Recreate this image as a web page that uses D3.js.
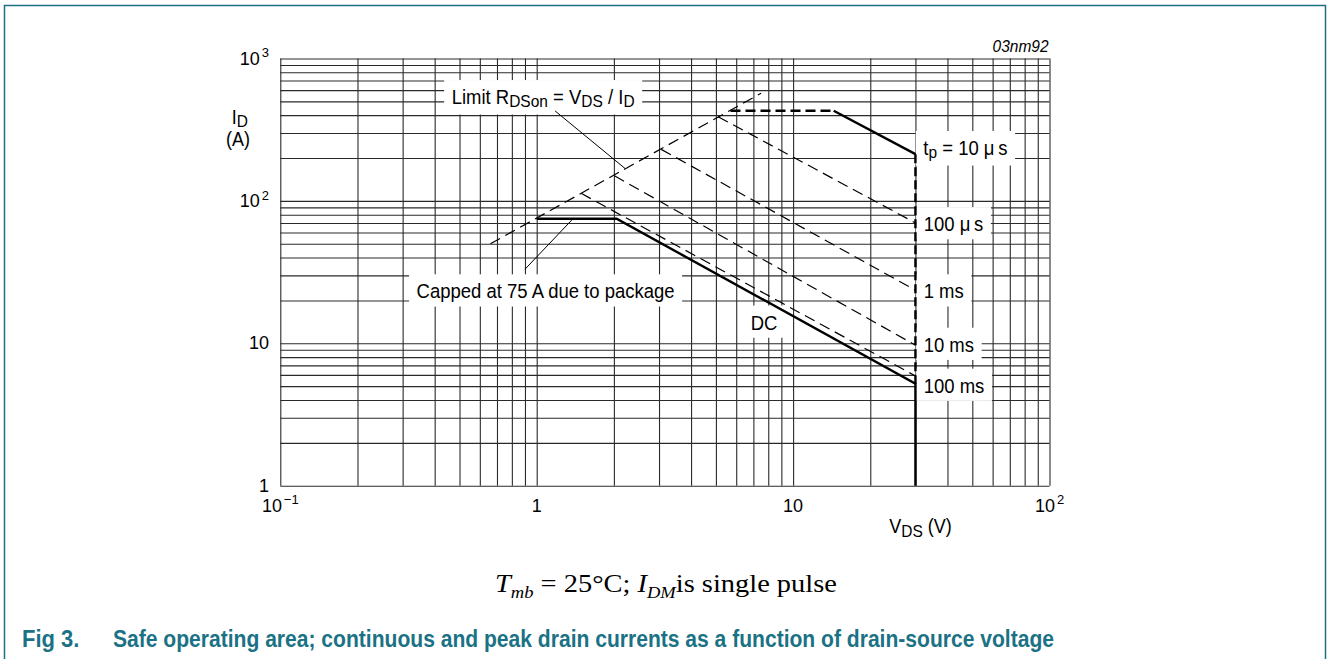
<!DOCTYPE html>
<html>
<head>
<meta charset="utf-8">
<script src="https://cdn.jsdelivr.net/npm/d3@7"></script>
<style>
    body { margin: 0; background: #fff; }
    svg { display: block; font-family: "Liberation Sans", Arial, Helvetica, sans-serif; }
</style>
</head>
<body>
<div id="soa"></div>
<script>
// ---- data (V in volts, I in amps) ----
const xTickValues = [0.1, 1, 10, 100];
const xTickLabels = [["10", "−1"], ["1", ""], ["10", ""], ["10", "2"]];
const yTickValues = [1, 10, 100, 1000];
const yTickLabels = [["1", ""], ["10", ""], ["10", "2"], ["10", "3"]];

const dcCurve     = [[1.0, 75], [2.05, 75], [30, 5.2], [30, 1]];
const rdsonLimit  = [[0.66, 50], [7.5, 570]];
const tp10usFlat  = [[5.7, 430], [14.4, 430]];
const tp10usSlope = [[14.4, 430], [30, 213]];
const pulseEdge   = [[30, 213], [30, 5.2]];
const tp100us     = [[5.1, 390], [30, 70]];
const tp1ms       = [[3.06, 230], [30, 23.6]];
const tp10ms      = [[2.01, 150], [30, 9.7]];
const tp100ms     = [[1.49, 113], [30, 5.9]];

// label texts: [text, isSubscript]
const limitText  = [["Limit R", 0], ["DSon", 1], [" = V", 0], ["DS", 1], [" / I", 0], ["D", 1]];
const cappedText = [["Capped at 75 A due to package", 0]];
const dcText     = [["DC", 0]];
const tpTexts = [
    [["t", 0], ["p", 1], [" = 10 μ\u2009s", 0]],
    [["100 μ\u2009s", 0]],
    [["1 ms", 0]],
    [["10 ms", 0]],
    [["100 ms", 0]]
];

// ---- layout ----
const W = 1327, H = 659;
const teal = "#1b7285";
const S = 1.12;   // the original figure is stretched a little vertically

const x = d3.scaleLog().domain([0.1, 100]).range([280.3, 1049.5]);
const y = d3.scaleLog().domain([1, 1000]).range([485.7, 58.5]);

// label anchors (left, baseline) in data space
const limitAt  = [0.466, 479];
const cappedAt = [0.340, 20.7];
const dcAt     = [6.83, 12.5];
const tpAt     = [[32.2, 210], [32.3, 61.4], [32.3, 20.7], [32.3, 8.73], [32.3, 4.5]];
const leaders  = [[[1.18, 428], [2.21, 169]], [[0.90, 33.1], [1.37, 73.4]]];

const svg = d3.select("#soa")
    .append("svg")
    .attr("width", W)
    .attr("height", H);

// frame
svg.append("path")
    .attr("d", `M4.5,${H + 5}V5.5H1325.5V${H + 5}`)
    .attr("fill", "none")
    .attr("stroke", teal)
    .attr("stroke-width", 1.5);

// grid (1..9 per decade)
const plotH = y(1) - y(1000);
const plotW = x(100) - x(0.1);

svg.append("g")
    .attr("transform", `translate(0,${y(1)})`)
    .call(d3.axisBottom(x).tickValues(x.ticks()).tickSize(-plotH).tickFormat(""))
    .call(g => g.select(".domain").remove())
    .call(g => g.selectAll(".tick line").attr("stroke", "#2a2a2a").attr("stroke-width", 1.1));

svg.append("g")
    .attr("transform", `translate(${x(0.1)},0)`)
    .call(d3.axisLeft(y).tickValues(y.ticks()).tickSize(-plotW).tickFormat(""))
    .call(g => g.select(".domain").remove())
    .call(g => g.selectAll(".tick line").attr("stroke", "#2a2a2a").attr("stroke-width", 1.1));

// text placed at (px, py) with a vertical stretch
function placed(parent, px, py, k = S) {
    return parent.append("g")
        .attr("transform", `translate(${px},${py}) scale(1,${k})`)
        .append("text");
}

function powLabel(t, parts) {
    t.append("tspan").text(parts[0]);
    if (parts[1]) {
        t.append("tspan").attr("dx", 2).attr("dy", -7)
            .style("font-size", "13px").text(parts[1]);
    }
}

const tickLayer = svg.append("g").style("font-size", "18px");

yTickValues.forEach((v, i) => {
    const t = placed(tickLayer, 269, y(v) + 6, 1.05).attr("text-anchor", "end");
    powLabel(t, yTickLabels[i]);
});

xTickValues.forEach((v, i) => {
    const t = placed(tickLayer, x(v), y(1) + 26, 1.05).attr("text-anchor", "middle");
    powLabel(t, xTickLabels[i]);
});

// rich text with subscripts
function richText(parent, parts, px, py, fs) {
    const t = placed(parent, px, py).style("font-size", fs + "px");
    let down = 0;
    parts.forEach(p => {
        const dy = p[1] ? 3 - down : -down;
        down = p[1] ? 3 : 0;
        t.append("tspan")
            .attr("dy", dy)
            .style("font-size", p[1] ? "15.5px" : null)
            .text(p[0]);
    });
    return t;
}

// axis titles
const titles = svg.append("g");
richText(titles, [["I", 0], ["D", 1]], 231.7, 124, 18);
placed(titles, 226, 146).style("font-size", "18px").text("(A)");
richText(titles, [["V", 0], ["DS", 1], [" (V)", 0]], 889.3, 533.3, 18);

placed(titles, x(100) - 1, y(1000) - 7)
    .attr("text-anchor", "end")
    .style("font-size", "15.5px")
    .style("font-style", "italic")
    .text("03nm92");

// labels with white boxes over the grid
const boxLayer = svg.append("g");
const curveLayer = svg.append("g");
const labelLayer = svg.append("g");

function boxedLabel(parts, at) {
    const px = x(at[0]), py = y(at[1]);
    const t = richText(labelLayer, parts, px, py, 18.5);
    const b = t.node().getBBox();
    boxLayer.append("rect")
        .attr("x", px + b.x - 7.5)
        .attr("y", py + b.y * S - 5)
        .attr("width", b.width + 15)
        .attr("height", b.height * S + 9)
        .attr("fill", "#fff");
}

boxedLabel(limitText, limitAt);
boxedLabel(cappedText, cappedAt);
boxedLabel(dcText, dcAt);
tpTexts.forEach((t, i) => boxedLabel(t, tpAt[i]));

// curves
const line = d3.line().x(d => x(d[0])).y(d => y(d[1]));

const curves = [
    { pts: rdsonLimit, w: 1.2, dash: "11,6" },
    { pts: tp100us,    w: 1.2, dash: "11,6" },
    { pts: tp1ms,      w: 1.2, dash: "11,6" },
    { pts: tp10ms,     w: 1.2, dash: "11,6" },
    { pts: tp100ms,    w: 1.2, dash: "11,6" },
    { pts: tp10usFlat, w: 2.4, dash: "10,5" },
    { pts: pulseEdge,  w: 2.4, dash: "9,4" },
    { pts: tp10usSlope, w: 2.4, dash: null },
    { pts: dcCurve,    w: 2.4, dash: null }
];

curveLayer.selectAll(".curve")
    .data(curves)
    .enter()
    .append("path")
    .attr("class", "curve")
    .attr("d", d => line(d.pts))
    .attr("fill", "none")
    .attr("stroke", "#000")
    .attr("stroke-width", d => d.w)
    .attr("stroke-dasharray", d => d.dash);

curveLayer.selectAll(".leader")
    .data(leaders)
    .enter()
    .append("path")
    .attr("class", "leader")
    .attr("d", d => line(d))
    .attr("fill", "none")
    .attr("stroke", "#000")
    .attr("stroke-width", 1);

// condition note (serif, stretched to match the original)
const note = svg.append("g");
const noteText = note.append("text")
    .attr("x", 0)
    .attr("y", 0)
    .style("font-family", "'Liberation Serif', 'DejaVu Serif', serif")
    .style("font-size", "23px");
noteText.append("tspan").style("font-style", "italic").text("T");
noteText.append("tspan").attr("dy", 6).style("font-style", "italic").style("font-size", "15px").text("mb");
noteText.append("tspan").attr("dy", -6).text(" = 25°C; ");
noteText.append("tspan").style("font-style", "italic").text("I");
noteText.append("tspan").attr("dy", 6).style("font-style", "italic").style("font-size", "15px").text("DM");
noteText.append("tspan").attr("dy", -6).text("is single pulse");
const nw = noteText.node().getBBox().width;
note.attr("transform", `translate(495,592) scale(${342 / nw},1.08)`);

// figure caption
const cap = svg.append("g")
    .attr("transform", `translate(0,647) scale(1,${S})`)
    .style("font-weight", "bold")
    .style("fill", teal)
    .style("font-size", "22px");
cap.append("text").attr("x", 22).attr("y", 0).text("Fig 3.");
cap.append("text")
    .attr("x", 113)
    .attr("y", 0)
    .attr("textLength", 941)
    .attr("lengthAdjust", "spacingAndGlyphs")
    .text("Safe operating area; continuous and peak drain currents as a function of drain-source voltage");
</script>
</body>
</html>
